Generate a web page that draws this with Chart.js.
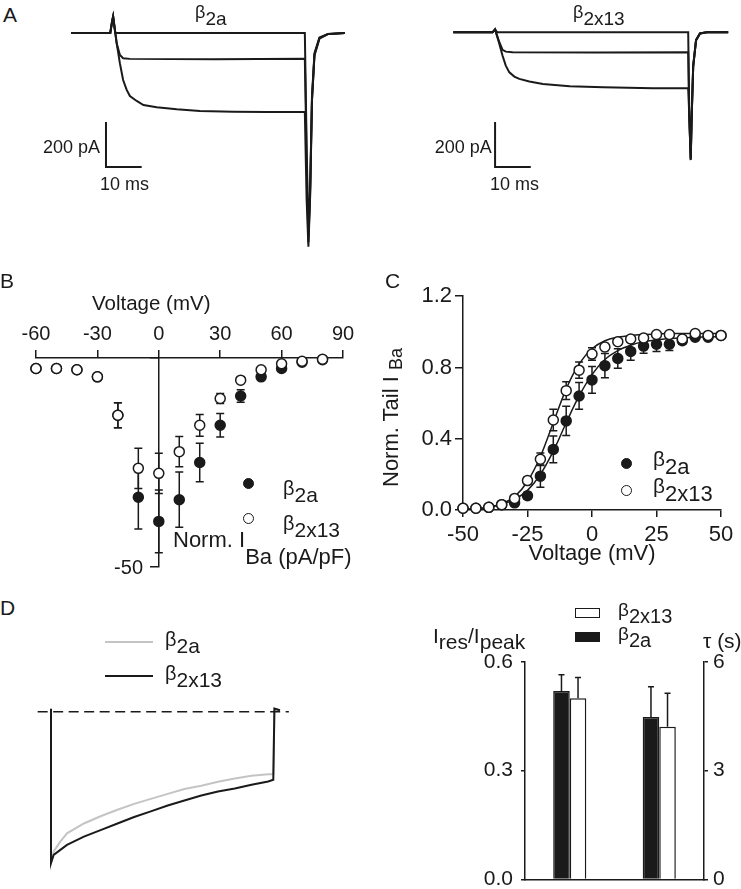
<!DOCTYPE html>
<html>
<head>
<meta charset="utf-8">
<script src="https://cdn.jsdelivr.net/npm/chart.js@4.4.0/dist/chart.umd.min.js"></script>
<style>
  body { margin: 0; width: 741px; height: 889px; overflow: hidden; position: relative; background: #fff;
         font-family: "Liberation Sans", Arial, Helvetica, sans-serif; color: #1a1a1a; }
  canvas { position: absolute; }
  .t { position: absolute; white-space: nowrap; line-height: 1; }
  .g { font-size: 0.95em; position: relative; top: -0.38em; }
  .s { position: relative; }
  .mk { position: absolute; box-sizing: border-box; }
</style>
</head>
<body>
<script>
// ---- Panel A: example current traces (time in ms, current in pA) ----
const aTopT = [0, 11.0, 11.5, 11.8, 12.4, 65.5, 66.0, 66.5, 67.0, 67.5, 68.2, 69.6, 72.0, 76.7];
const aTopI = [0, 0, 50, 73, 0, 0, -500, -900, -680, -280, -90, -20, -4, 0];
const aMidT = [0, 11.0, 11.5, 11.8, 12.8, 13.7, 14.6, 16.5, 40.0, 65.5, 66.0, 66.5, 67.0, 67.5, 68.2, 69.6, 72.0, 76.7];
const aMidI = [0, 0, 50, 73, -46, -98, -112, -115, -117, -115, -560, -930, -700, -300, -100, -25, -5, 0];
const aBotT = [0, 11.0, 11.5, 11.8, 12.8, 13.7, 14.6, 15.6, 16.5, 18.4, 20.3, 24.0, 29.6, 36.1, 45.5, 54.9, 65.5, 66.0, 66.5, 67.0, 67.5, 68.2, 69.6, 72.0, 76.7];
const aBotI = [0, 0, 50, 73, -46, -135, -209, -253, -280, -302, -320, -330, -339, -347, -350, -351, -351, -740, -950, -720, -300, -95, -22, -4, 0];

const bTopT = [0, 11.0, 11.7, 12.3, 65.8, 66.1, 66.5, 66.8, 67.2, 68.0, 69.1, 71.0, 77.0];
const bTopI = [0, 0, 13, 0, 0, -370, -565, -360, -150, -35, -5, 0, 0];
const bMidT = [0, 11.0, 11.7, 12.9, 13.8, 14.7, 16.6, 40.0, 65.8, 66.1, 66.5, 66.8, 67.2, 68.0, 69.1, 71.0, 77.0];
const bMidI = [0, 0, 13, -44, -78, -86, -89, -90, -89, -370, -560, -360, -150, -35, -5, 0, 0];
const bBotT = [0, 11.0, 11.7, 12.9, 13.8, 14.7, 15.7, 17.1, 18.5, 21.3, 25.1, 32.6, 42.0, 56.0, 65.8, 66.1, 66.5, 66.8, 67.2, 68.0, 69.1, 71.0, 77.0];
const bBotI = [0, 0, 13, -52, -104, -148, -178, -197, -207, -219, -230, -240, -244, -249, -249, -370, -568, -360, -150, -35, -5, 0, 0];

const SCALE_PA = 200;
const SCALE_MS = 10;

// ---- Panel B: current-voltage relation (mV, pA/pF) ----
const ivV = [-60, -50, -40, -30, -20, -10, 0, 10, 20, 30, 40, 50, 60, 70, 80];
const ivB2a = [-2.5, -2.5, -2.8, -4.5, -13.7, -33.3, -39.1, -33.9, -25.0, -16.1, -9.1, -4.5, -2.5, -1.0, -0.4];
const ivB2aErr = [0, 0, 0, 0, 3.0, 7.6, 7.5, 6.6, 4.6, 2.8, 1.5, 0.5, 0.4, 0.2, 0.2];
const ivB2x13 = [-2.5, -2.5, -2.8, -4.5, -13.7, -26.4, -27.6, -22.4, -16.1, -9.7, -5.3, -2.8, -1.4, -0.8, -0.3];
const ivB2x13Err = [0, 0, 0, 0, 3.0, 4.8, 4.8, 3.6, 2.6, 1.2, 0.5, 0.3, 0.3, 0.2, 0.2];

// ---- Panel C: normalised tail currents ----
const actV = [-50, -45, -40, -35, -30, -25, -20, -15, -10, -5, 0, 5, 10, 15, 20, 25, 30, 35, 40, 45, 50];
const actB2a = [0.01, 0.01, 0.015, 0.03, 0.04, 0.08, 0.19, 0.34, 0.50, 0.64, 0.73, 0.81, 0.85, 0.89, 0.92, 0.93, 0.93, 0.95, 0.97, 0.97, 0.98];
const actB2aErr = [0, 0, 0, 0, 0.01, 0.02, 0.062, 0.075, 0.082, 0.075, 0.075, 0.068, 0.055, 0.05, 0.04, 0.04, 0.035, 0.02, 0.01, 0.01, 0.01];
const actB2x13 = [0.01, 0.01, 0.015, 0.03, 0.065, 0.165, 0.285, 0.505, 0.67, 0.785, 0.875, 0.915, 0.945, 0.96, 0.965, 0.985, 0.985, 0.96, 0.99, 0.98, 0.98];
const actB2x13Err = [0, 0, 0, 0, 0.01, 0.02, 0.035, 0.06, 0.05, 0.045, 0.035, 0.02, 0.015, 0.01, 0.01, 0.01, 0.01, 0.02, 0.01, 0.01, 0.01];
const fitB2a = [0.004, 0.008, 0.016, 0.032, 0.06, 0.11, 0.20, 0.33, 0.49, 0.64, 0.76, 0.845, 0.895, 0.925, 0.945, 0.955, 0.962, 0.967, 0.97, 0.972, 0.974];
const fitB2x13 = [0.003, 0.007, 0.015, 0.035, 0.075, 0.16, 0.30, 0.49, 0.68, 0.82, 0.905, 0.95, 0.97, 0.98, 0.985, 0.988, 0.99, 0.99, 0.99, 0.99, 0.99];

// ---- Panel D: inactivation traces (normalised) and bars ----
const dT = [0, 0, 0.12, 0.42, 0.72, 1.48, 2.23, 2.99, 3.74, 4.49, 5.25, 6.0, 6.76, 7.51, 8.27, 9.02, 9.77, 10.0, 10.05, 10.3];
const dB2a = [0.02, -1.0, -0.924, -0.859, -0.804, -0.739, -0.691, -0.648, -0.609, -0.576, -0.543, -0.511, -0.489, -0.463, -0.441, -0.424, -0.413, -0.413, 0.02, 0.01];
const dB2x13 = [0.02, -1.0, -0.946, -0.913, -0.880, -0.826, -0.783, -0.739, -0.696, -0.659, -0.620, -0.587, -0.554, -0.528, -0.507, -0.483, -0.461, -0.45, 0.02, 0.01];
const dBaseT = [-0.6, 10.7];
const dBaseI = [0, 0];

const barGroups = ['Ires/Ipeak', 'τ'];
const barB2a = [0.52, 4.48];
const barB2x13 = [0.50, 4.21];
const barErrB2a = [0.045, 0.84];
const barErrB2x13 = [0.057, 0.93];

const INK = '#1a1a1a';
const GREY = '#c4c4c4';
const FONT = '"Liberation Sans", Arial, Helvetica, sans-serif';
const BETA = '<span class="g">β</span>';

Chart.defaults.font.family = FONT;
Chart.defaults.color = INK;
Chart.defaults.animation = false;
Chart.defaults.events = [];
Chart.defaults.plugins.legend.display = false;
Chart.defaults.plugins.tooltip.enabled = false;

const pts = (xs, ys) => xs.map((x, i) => ({ x, y: ys[i] }));

function makeCanvas(left, top, w, h) {
    const c = document.createElement('canvas');
    c.width = w; c.height = h;
    c.style.left = left + 'px'; c.style.top = top + 'px';
    c.style.width = w + 'px'; c.style.height = h + 'px';
    document.body.appendChild(c);
    return c;
}

// text placed by its baseline
function label(html, x, base, size, right) {
    const d = document.createElement('div');
    d.className = 't';
    d.innerHTML = html;
    d.style.fontSize = size + 'px';
    d.style.top = (base - 0.8465 * size) + 'px';
    if (right) d.style.right = (741 - x) + 'px'; else d.style.left = x + 'px';
    document.body.appendChild(d);
    return d;
}

function marker(cx, cy, w, h, filled, round) {
    const d = document.createElement('div');
    d.className = 'mk';
    Object.assign(d.style, {
        left: (cx - w / 2) + 'px', top: (cy - h / 2) + 'px', width: w + 'px', height: h + 'px',
        background: filled ? INK : '#fff', border: '1.5px solid ' + INK,
        borderRadius: round ? '50%' : '0'
    });
    document.body.appendChild(d);
}

function hline(x1, x2, y, color) {
    const d = document.createElement('div');
    d.className = 'mk';
    Object.assign(d.style, { left: x1 + 'px', top: (y - 1) + 'px', width: (x2 - x1) + 'px', height: '2px', background: color });
    document.body.appendChild(d);
}

// error bars, drawn just before the dataset's own marks
const errorBars = {
    id: 'errorBars',
    beforeDatasetDraw(chart, args) {
        const ds = chart.data.datasets[args.index];
        if (!ds.errors) return;
        const meta = args.meta;
        const ys = chart.scales[meta.yAxisID];
        const ctx = chart.ctx;
        ctx.save();
        ctx.strokeStyle = INK;
        ctx.lineWidth = 1.5;
        meta.data.forEach((el, i) => {
            const e = ds.errors[i];
            const raw = ds.data[i];
            const v = raw === null ? null : (typeof raw === 'object' ? raw.y : raw);
            if (!e || v === null) return;
            const top = ys.getPixelForValue(v + e);
            const bot = ds.upOnly ? el.y : ys.getPixelForValue(v - e);
            const w = ds.capHalf || 4;
            ctx.beginPath();
            ctx.moveTo(el.x, top); ctx.lineTo(el.x, bot);
            ctx.moveTo(el.x - w, top); ctx.lineTo(el.x + w, top);
            if (!ds.upOnly) { ctx.moveTo(el.x - w, bot); ctx.lineTo(el.x + w, bot); }
            ctx.stroke();
        });
        ctx.restore();
    }
};

// ----- traces (panel A and D left) -----
function traceChart(box, map, datasets) {
    const cv = makeCanvas(box.left, box.top, box.w, box.h);
    const x0 = map.x0 - box.left, y0 = map.y0 - box.top;
    return new Chart(cv, {
        type: 'scatter',
        data: { datasets },
        options: {
            responsive: false,
            devicePixelRatio: 1,
            layout: { padding: 0 },
            scales: {
                x: { type: 'linear', display: false, min: -x0 / map.px, max: (box.w - x0) / map.px },
                y: { type: 'linear', display: false, min: -(box.h - y0) / map.py, max: y0 / map.py }
            }
        }
    });
}

function traceSet(data, color, width, extra) {
    return Object.assign({ data, showLine: true, borderColor: color, borderWidth: width, pointRadius: 0, tension: 0, clip: false }, extra || {});
}

function scaleBar(t0, i0) {
    return traceSet([{ x: t0, y: i0 }, { x: t0, y: i0 - SCALE_PA }, { x: t0 + SCALE_MS, y: i0 - SCALE_PA }], INK, 2);
}

traceChart({ left: 60, top: 0, w: 300, h: 260 }, { x0: 71, y0: 33, px: 3.57, py: 0.225 }, [
    traceSet(pts(aTopT, aTopI), INK, 2),
    traceSet(pts(aMidT, aMidI), INK, 2),
    traceSet(pts(aBotT, aBotI), INK, 2),
    scaleBar(9.8, -396)
]);

traceChart({ left: 440, top: 0, w: 300, h: 260 }, { x0: 453.3, y0: 32.3, px: 3.57, py: 0.225 }, [
    traceSet(pts(bTopT, bTopI), INK, 2),
    traceSet(pts(bMidT, bMidI), INK, 2),
    traceSet(pts(bBotT, bBotI), INK, 2),
    scaleBar(11.7, -399)
]);

traceChart({ left: 20, top: 690, w: 290, h: 190 }, { x0: 51, y0: 711.7, px: 22.23, py: 151.3 }, [
    traceSet(pts(dBaseT, dBaseI), INK, 1.5, { borderDash: [10, 5.5] }),
    traceSet(pts(dT, dB2x13), INK, 2),
    traceSet(pts(dT, dB2a), GREY, 2)
]);

// ----- panel B: I-V -----
const axisLine = { color: INK, width: 1.5 };
const tickGrid = (len) => ({ drawOnChartArea: false, tickLength: len, color: INK, lineWidth: 1.5 });

new Chart(makeCanvas(0, 285, 370, 300), {
    type: 'scatter',
    data: {
        datasets: [
            { label: 'β2x13', data: pts(ivV, ivB2x13), errors: ivB2x13Err, order: 1, clip: false,
              pointRadius: 5, borderWidth: 1.5, borderColor: INK, backgroundColor: '#fff' },
            { label: 'β2a', data: pts(ivV, ivB2a), errors: ivB2aErr, order: 2, clip: false,
              pointRadius: 5, borderWidth: 1.5, borderColor: INK, backgroundColor: INK }
        ]
    },
    options: {
        responsive: false,
        devicePixelRatio: 1,
        layout: { padding: { left: 36, right: 27, top: 0, bottom: 18 } },
        scales: {
            x: {
                type: 'linear', position: 'top', min: -60, max: 90,
                ticks: { stepSize: 30, font: { size: 20 }, padding: 4 },
                grid: tickGrid(8), border: axisLine,
                afterFit: s => { s.height = 73; }
            },
            y: {
                type: 'linear', position: { x: 0 }, min: -50, max: 0,
                ticks: { display: false },
                afterBuildTicks: s => { s.ticks = [{ value: -50 }, { value: 0 }]; },
                grid: tickGrid(8), border: axisLine
            }
        }
    },
    plugins: [errorBars]
});

// ----- panel C: activation -----
new Chart(makeCanvas(370, 280, 371, 300), {
    type: 'scatter',
    data: {
        datasets: [
            { label: 'β2x13', data: pts(actV, actB2x13), errors: actB2x13Err, order: 1, clip: false,
              pointRadius: 5, borderWidth: 1.5, borderColor: INK, backgroundColor: '#fff' },
            { label: 'β2a', data: pts(actV, actB2a), errors: actB2aErr, order: 2, clip: false,
              pointRadius: 5, borderWidth: 1.5, borderColor: INK, backgroundColor: INK },
            { label: 'fit β2x13', data: pts(actV, fitB2x13), order: 3, showLine: true, pointRadius: 0,
              borderColor: INK, borderWidth: 1.5, cubicInterpolationMode: 'monotone', clip: false },
            { label: 'fit β2a', data: pts(actV, fitB2a), order: 4, showLine: true, pointRadius: 0,
              borderColor: INK, borderWidth: 1.5, cubicInterpolationMode: 'monotone', clip: false }
        ]
    },
    options: {
        responsive: false,
        devicePixelRatio: 1,
        layout: { padding: { left: 0, right: 20, top: 16, bottom: 0 } },
        scales: {
            x: {
                type: 'linear', position: 'bottom', min: -50, max: 50,
                ticks: { stepSize: 25, font: { size: 22 }, padding: 5 },
                grid: tickGrid(7), border: axisLine,
                title: { display: true, text: 'Voltage (mV)', font: { size: 22 }, padding: { top: 0, bottom: 13 } },
                afterFit: s => { s.height = 70; }
            },
            y: {
                type: 'linear', position: 'left', min: 0, max: 1.2,
                ticks: { stepSize: 0.4, font: { size: 22 }, padding: 3, callback: v => v.toFixed(1) },
                grid: tickGrid(8), border: axisLine,
                afterFit: s => { s.width = 93; }
            }
        }
    },
    plugins: [errorBars]
});

// ----- panel D: bars -----
const barStyle = (fill) => ({ backgroundColor: fill, borderColor: INK, borderWidth: 1.5, skipNull: true,
                              upOnly: true, capHalf: 3, categoryPercentage: 0.37, barPercentage: 1 });
new Chart(makeCanvas(370, 590, 371, 310), {
    type: 'bar',
    data: {
        labels: barGroups,
        datasets: [
            Object.assign({ label: 'β2a', data: [barB2a[0], null], errors: [barErrB2a[0], 0], yAxisID: 'y' }, barStyle(INK)),
            Object.assign({ label: 'β2x13', data: [barB2x13[0], null], errors: [barErrB2x13[0], 0], yAxisID: 'y' }, barStyle('#fff')),
            Object.assign({ label: 'β2a', data: [null, barB2a[1]], errors: [0, barErrB2a[1]], yAxisID: 'y2' }, barStyle(INK)),
            Object.assign({ label: 'β2x13', data: [null, barB2x13[1]], errors: [0, barErrB2x13[1]], yAxisID: 'y2' }, barStyle('#fff'))
        ]
    },
    options: {
        responsive: false,
        devicePixelRatio: 1,
        layout: { padding: { left: 0, right: 0, top: 72, bottom: 0 } },
        scales: {
            x: {
                type: 'category', offset: true,
                grid: { display: false }, ticks: { display: false }, border: axisLine,
                afterFit: s => { s.height = 18; }
            },
            y: {
                position: 'left', min: 0, max: 0.6,
                ticks: { stepSize: 0.3, font: { size: 21 }, padding: 8, callback: v => v.toFixed(1) },
                grid: tickGrid(4), border: axisLine,
                afterFit: s => { s.width = 155; }
            },
            y2: {
                position: 'right', min: 0, max: 6,
                ticks: { stepSize: 3, font: { size: 21 }, padding: 5 },
                grid: tickGrid(4), border: axisLine,
                afterFit: s => { s.width = 37; }
            }
        }
    },
    plugins: [errorBars]
});

// ----- text, legends -----
label('A', 3, 22, 21);
label('B', 0, 288, 21);
label('C', 385, 288, 21);
label('D', 0, 615, 21);

label(BETA + '2a', 195, 25, 19);
label(BETA + '2x13', 573, 25, 19);
label('200 pA', 100, 153, 18, true);
label('10 ms', 100, 190, 18);
label('200 pA', 491.7, 153, 18, true);
label('10 ms', 490, 190, 18);

// B
label('Voltage (mV)', 92, 310, 20.5);
marker(248, 483, 11, 11, true, true);
marker(248, 518, 11, 11, false, true);
label(BETA + '2a', 283, 502, 21);
label(BETA + '2x13', 283, 537, 21);
label('Norm. I<span class="s" style="top:17px">Ba (pA/pF)</span>', 173, 548, 22);
label('-50', 143, 574, 20, true);

// C
marker(626.7, 463.3, 11, 11, true, true);
marker(626.7, 490, 11, 11, false, true);
label(BETA + '2a', 653, 475, 22);
label(BETA + '2x13', 653, 502, 22);
const yt = label('Norm. Tail I <span class="s" style="top:4px;font-size:0.82em">Ba</span>', 380, 0, 22);
yt.style.top = '487px';
yt.style.transformOrigin = '0 0';
yt.style.transform = 'rotate(-90deg)';

// D traces legend
hline(105, 153, 642, GREY);
hline(105, 153, 676, INK);
label(BETA + '2a', 165, 653, 21);
label(BETA + '2x13', 165, 687, 21);

// D bars legend
marker(587.5, 612.5, 25, 10, false, false);
marker(587.5, 636.5, 25, 10, true, false);
label(BETA + '2x13', 618, 623, 20);
label(BETA + '2a', 618, 647, 20);
label('I<span class="s" style="top:6px">res</span>/I<span class="s" style="top:6px">peak</span>', 433, 643, 21);
label('τ (s)', 703, 648, 21);
</script>
</body>
</html>
